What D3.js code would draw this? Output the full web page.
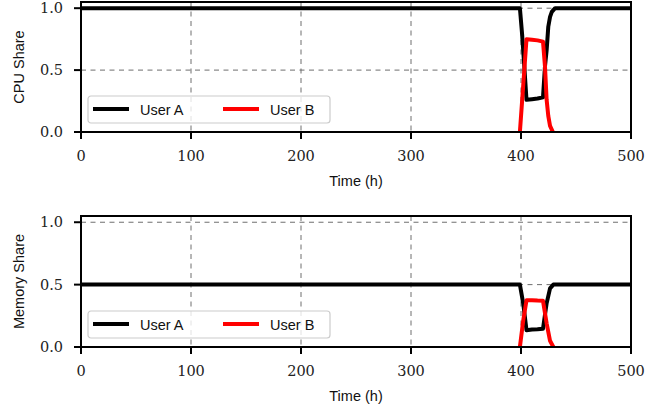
<!DOCTYPE html>
<html>
<head>
<meta charset="utf-8">
<script src="https://cdn.jsdelivr.net/npm/d3@7"></script>
<style>
  body { margin: 0; background: #fff; }
  svg { display: block; }
  .tick-label { font-family: "DejaVu Serif", serif; font-size: 14.5px; fill: #222; }
  .axis-title { font-family: "Liberation Sans", Arial, sans-serif; font-size: 14.5px; fill: #111; }
</style>
</head>
<body>
<div id="chart"></div>
<script>
// data
const xTicks = [0, 100, 200, 300, 400, 500];
const yTicks = [0.0, 0.5, 1.0];
const seriesNames = ["User A", "User B"];
const seriesColors = ["#000000", "#ff0000"];

const cpuTimeA = [0, 399, 401, 403, 405, 410, 415, 420, 421.8, 423.3, 424.8, 426.4, 428, 431, 500];
const cpuUserA = [1, 1, 0.79, 0.53, 0.26, 0.265, 0.27, 0.28, 0.53, 0.66, 0.85, 0.93, 0.97, 1, 1];
const cpuTimeB = [399, 401, 403, 405, 410, 415, 420, 421.8, 423.3, 424.8, 426.4, 429];
const cpuUserB = [0, 0.25, 0.5, 0.75, 0.745, 0.74, 0.73, 0.53, 0.26, 0.13, 0.05, 0];

const memTimeA = [0, 399, 402, 405, 410, 415, 420, 423.3, 426.4, 429.4, 500];
const memUserA = [0.5, 0.5, 0.35, 0.134, 0.14, 0.143, 0.147, 0.35, 0.47, 0.5, 0.5];
const memTimeB = [399, 402, 405, 410, 415, 420, 423.3, 426.4, 429.4];
const memUserB = [0, 0.21, 0.375, 0.375, 0.372, 0.37, 0.19, 0.05, 0];

const width = 668, height = 414;
const svg = d3.select("#chart").append("svg")
  .attr("width", width).attr("height", height);

const left = 81, right = 631;
const x = d3.scaleLinear().domain([0, 500]).range([left, right]);

function panel(id, top, bottom, yTitle, seriesT, seriesV) {
  const y = d3.scaleLinear().domain([0, 1.05]).range([bottom, top]);
  const g = svg.append("g");

  g.append("clipPath").attr("id", id)
    .append("rect").attr("x", left).attr("y", top)
    .attr("width", right - left).attr("height", bottom - top);

  // grid
  g.append("g").selectAll("line").data(xTicks.slice(1, -1)).join("line")
    .attr("x1", d => x(d)).attr("x2", d => x(d))
    .attr("y1", top).attr("y2", bottom)
    .attr("stroke", "#6e6e6e").attr("stroke-width", 1).attr("stroke-dasharray", "5,4.5");
  g.append("g").selectAll("line").data(yTicks.slice(1)).join("line")
    .attr("x1", left).attr("x2", right)
    .attr("y1", d => y(d)).attr("y2", d => y(d))
    .attr("stroke", "#6e6e6e").attr("stroke-width", 1).attr("stroke-dasharray", "5,4.5");

  // lines
  const line = d3.line().x(d => x(d[0])).y(d => y(d[1]));
  const lines = g.append("g").attr("clip-path", `url(#${id})`);
  seriesT.forEach((t, i) => {
    lines.append("path")
      .datum(t.map((tv, j) => [tv, seriesV[i][j]]))
      .attr("d", line)
      .attr("fill", "none")
      .attr("stroke", seriesColors[i])
      .attr("stroke-width", 4)
      .attr("stroke-linejoin", "round");
  });

  // legend
  const lg = g.append("g").attr("transform", `translate(88, ${bottom - 36})`);
  lg.append("rect").attr("x", 0).attr("y", 0).attr("width", 242).attr("height", 27)
    .attr("rx", 3).attr("fill", "#fff").attr("fill-opacity", 0.8)
    .attr("stroke", "#ccc").attr("stroke-width", 1.2);
  seriesNames.forEach((name, i) => {
    const ox = i * 130;
    lg.append("line").attr("x1", ox + 5).attr("x2", ox + 41)
      .attr("y1", 13).attr("y2", 13)
      .attr("stroke", seriesColors[i]).attr("stroke-width", 4);
    lg.append("text").attr("class", "axis-title")
      .attr("x", ox + 52).attr("y", 18.5).text(name);
  });

  // spines
  g.append("rect").attr("x", left).attr("y", top)
    .attr("width", right - left).attr("height", bottom - top)
    .attr("fill", "none").attr("stroke", "#000").attr("stroke-width", 2);

  // x ticks
  const xt = g.append("g");
  xt.selectAll("line").data(xTicks).join("line")
    .attr("x1", d => x(d)).attr("x2", d => x(d))
    .attr("y1", bottom).attr("y2", bottom + 7)
    .attr("stroke", "#000").attr("stroke-width", 2);
  xt.selectAll("text").data(xTicks).join("text")
    .attr("class", "tick-label")
    .attr("x", d => x(d)).attr("y", bottom + 29)
    .attr("text-anchor", "middle").text(d => d3.format("d")(d));

  // y ticks
  const yt = g.append("g");
  yt.selectAll("line").data(yTicks).join("line")
    .attr("x1", left - 7).attr("x2", left)
    .attr("y1", d => y(d)).attr("y2", d => y(d))
    .attr("stroke", "#000").attr("stroke-width", 2);
  yt.selectAll("text").data(yTicks).join("text")
    .attr("class", "tick-label")
    .attr("x", 63).attr("y", d => y(d) + 5)
    .attr("text-anchor", "end").text(d => d3.format(".1f")(d));

  // titles
  g.append("text").attr("class", "axis-title")
    .attr("x", (left + right) / 2).attr("y", bottom + 54)
    .attr("text-anchor", "middle").text("Time (h)");
  g.append("text").attr("class", "axis-title")
    .attr("transform", `translate(24, ${(top + bottom) / 2}) rotate(-90)`)
    .attr("text-anchor", "middle").text(yTitle);
}

panel("clipCpu", 2, 132, "CPU Share", [cpuTimeA, cpuTimeB], [cpuUserA, cpuUserB]);
panel("clipMem", 216, 347, "Memory Share", [memTimeA, memTimeB], [memUserA, memUserB]);
</script>
</body>
</html>
